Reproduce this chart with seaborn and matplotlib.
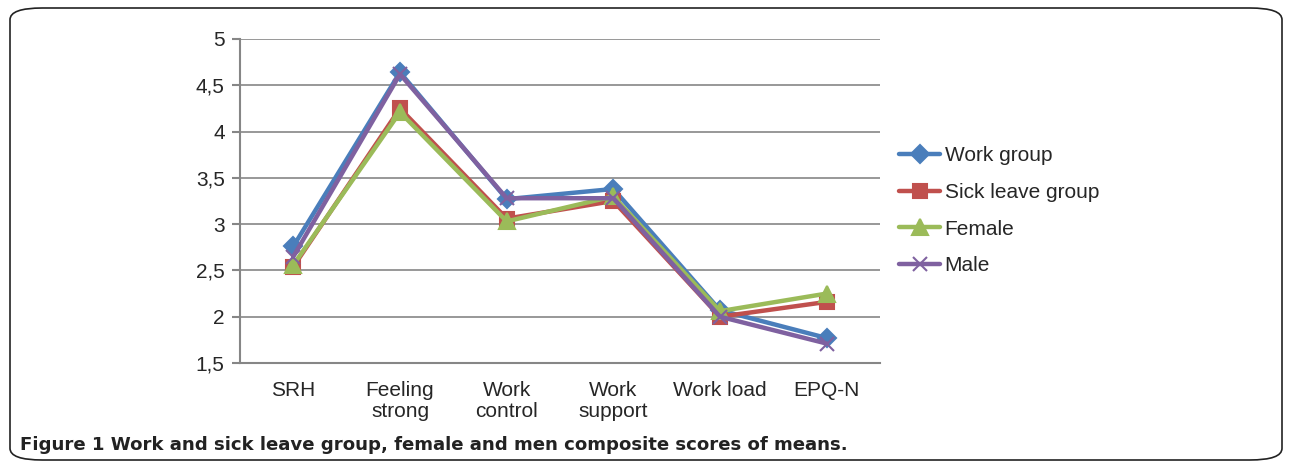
import matplotlib
matplotlib.use("Agg")
import matplotlib.pyplot as plt
from matplotlib.patches import FancyBboxPatch
import seaborn as sns
import pandas as pd

categories = ["SRH", "Feeling\nstrong", "Work\ncontrol", "Work\nsupport", "Work load", "EPQ-N"]
work_group = [2.76, 4.64, 3.27, 3.38, 2.07, 1.77]
sick_leave = [2.54, 4.25, 3.06, 3.25, 2.00, 2.16]
female = [2.56, 4.21, 3.03, 3.30, 2.06, 2.25]
male = [2.65, 4.62, 3.28, 3.28, 2.00, 1.71]
series = ["Work group", "Sick leave group", "Female", "Male"]

sns.set_style("white")
plt.rcParams["font.family"] = ["Liberation Sans", "DejaVu Sans"]

colors = {"Work group": "#4A7EBB", "Sick leave group": "#C0504D",
          "Female": "#9BBB59", "Male": "#7F61A0"}
markers = {"Work group": "D", "Sick leave group": "s", "Female": "^", "Male": "x"}
msizes = {"Work group": 9, "Sick leave group": 10, "Female": 11, "Male": 10}

fig = plt.figure(figsize=(12.92, 4.66), dpi=100)
ax = fig.add_axes([240 / 1292, 1 - 363 / 466, 640 / 1292, 324 / 466])

for name, vals in zip(series, [work_group, sick_leave, female, male]):
    df = pd.DataFrame({"pos": range(len(vals)), "score": vals})
    sns.lineplot(data=df, x="pos", y="score", color=colors[name], marker=markers[name],
                 markersize=msizes[name], markeredgewidth=1.5, markeredgecolor=colors[name],
                 linewidth=3.2, label=name, ax=ax)

ax.set_xlim(-0.5, 5.5)
ax.set_ylim(1.5, 5)
yt = [1.5, 2, 2.5, 3, 3.5, 4, 4.5, 5]
ax.set_yticks(yt)
ax.set_yticklabels([str(v).replace(".", ",").replace(",0", "") for v in yt], fontsize=15)
ax.set_xticks(range(len(categories)))
ax.set_xticklabels(categories, fontsize=15, linespacing=1.1)
ax.set_xticks([i - 0.5 for i in range(len(categories) + 1)], minor=True)
ax.tick_params(axis="x", which="major", length=0, pad=13)
ax.tick_params(axis="x", which="minor", length=6, width=1.5, color="#868686", direction="out")
ax.tick_params(axis="y", length=6, width=1.5, color="#868686", direction="out", pad=5, left=True)
ax.yaxis.grid(True, color="#868686", linewidth=1.2)
ax.set_axisbelow(True)
for s in ["top", "right"]:
    ax.spines[s].set_visible(False)
for s in ["left", "bottom"]:
    ax.spines[s].set_color("#868686")
    ax.spines[s].set_linewidth(1.5)
ax.set_xlabel("")
ax.set_ylabel("")

leg = ax.legend(loc="center left", bbox_to_anchor=(1.0, 0.47), frameon=False,
                fontsize=15, handlelength=2.0, labelspacing=0.85, handletextpad=0.2)

border = FancyBboxPatch((10 / 1292, 6 / 466), 1272 / 1292, 452 / 466,
                        boxstyle="round,pad=0,rounding_size=0.025",
                        transform=fig.transFigure, facecolor="none",
                        edgecolor="#222222", linewidth=1.2)
fig.patches.append(border)

fig.text(20 / 1292, 1 - 445 / 466,
         "Figure 1 Work and sick leave group, female and men composite scores of means.",
         fontsize=13.1, fontweight="bold", va="center", ha="left",
         family=["DejaVu Sans"], color="#222222")

fig.savefig("out.png", dpi=100)
